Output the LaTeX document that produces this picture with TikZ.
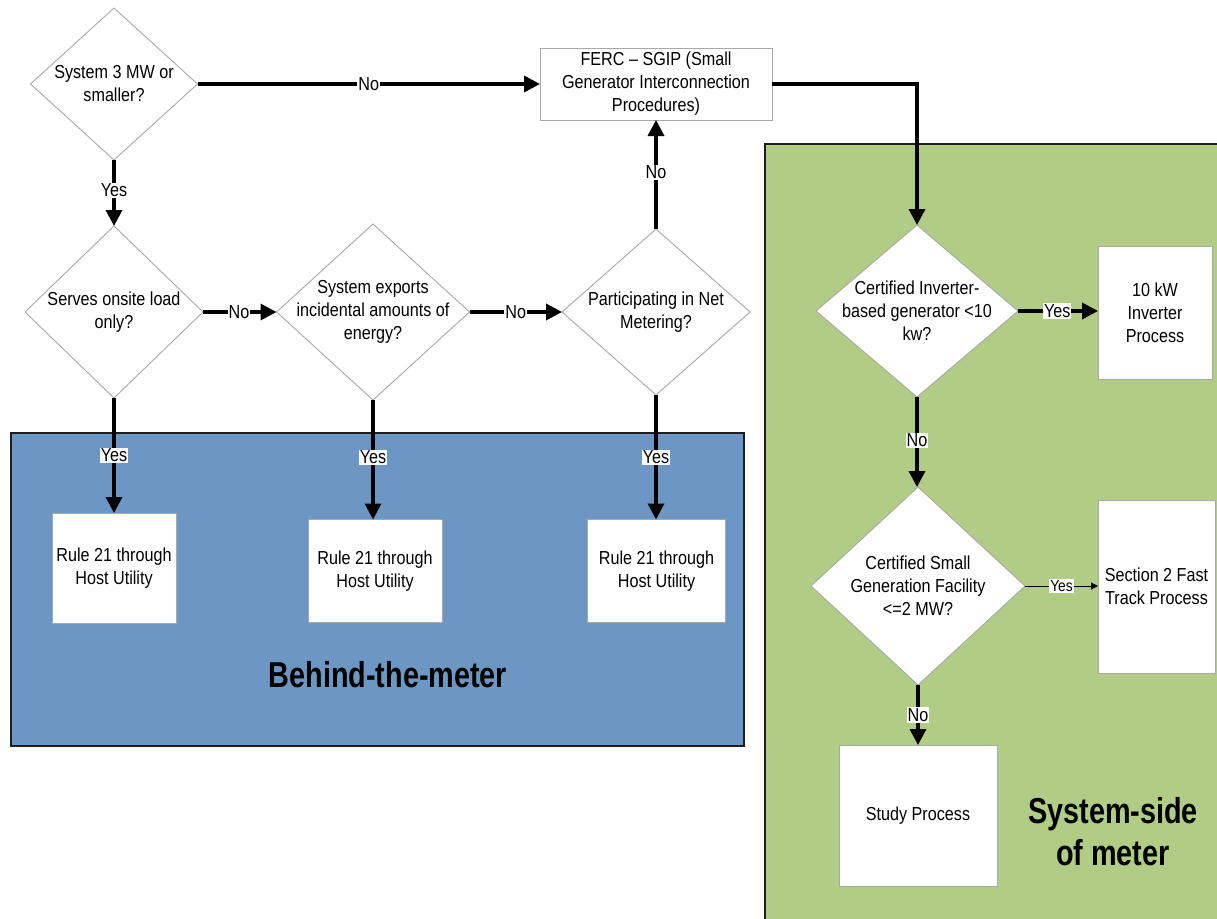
\documentclass[tikz,border=0pt]{standalone}
\usepackage{fontspec}
\setmainfont{Liberation Sans}[FakeStretch=0.86]
\newfontfamily\titlefont{Liberation Sans}[FakeStretch=0.8]
\usetikzlibrary{shapes.geometric,arrows.meta}
\definecolor{meterblue}{HTML}{6C97C5}
\definecolor{sidegreen}{HTML}{B1CD85}
\definecolor{edgegray}{HTML}{A8A8A8}
\definecolor{framedark}{HTML}{1E1E1E}

\begin{document}
\begin{tikzpicture}[x=1pt,y=-1pt,
  txt/.style={font=\fontsize{18.8}{23}\selectfont, align=center, text=black},
  dia/.style={diamond, draw=edgegray, line width=0.9pt, fill=white, inner sep=0pt, outer sep=0pt},
  box/.style={rectangle, draw=edgegray, line width=0.9pt, fill=white, inner sep=0pt, outer sep=0pt, txt},
  flow/.style={line width=3.5pt, line join=miter, -{Triangle[length=16pt,width=16pt]}},
  thinflow/.style={line width=1pt, -{Triangle[length=7pt,width=7pt]}},
  lbl/.style={fill=white, inner sep=1pt, font=\fontsize{18.8}{20}\selectfont},
  smalllbl/.style={fill=white, inner sep=1pt, font=\fontsize{16}{17}\selectfont},
  region/.style={draw=framedark, line width=2pt},
  title/.style={font=\titlefont\bfseries\fontsize{36}{42}\selectfont, align=center}
]
\useasboundingbox (0,0) rectangle (1217,918);
\clip (0,0) rectangle (1217,918);

% shaded zones
\draw[region, fill=sidegreen] (765,144) rectangle (1240,940);
\draw[region, fill=meterblue] (11,433) rectangle (744,746);

% decisions
\node[dia, minimum width=167, minimum height=152,
  label={[txt]center:{System 3 MW or\\smaller?}}] (d1) at (114,84) {};
\node[dia, minimum width=178, minimum height=172,
  label={[txt]center:{Serves onsite load\\only?}}] (d2) at (114,312) {};
\node[dia, minimum width=193, minimum height=176,
  label={[txt]center:{System exports\\incidental amounts of\\energy?}}] (d3) at (373,312) {};
\node[dia, minimum width=188, minimum height=166,
  label={[txt]center:{Participating in Net\\Metering?}}] (d4) at (656,312) {};
\node[dia, minimum width=202, minimum height=172,
  label={[txt]center:{Certified Inverter-\\based generator <10\\kw?}}] (d5) at (917,311) {};
\node[dia, minimum width=214, minimum height=198,
  label={[txt]center:{Certified Small\\Generation Facility\\<=2 MW?}}] (d6) at (918,586) {};

% process boxes
\node[box, minimum width=232, minimum height=72] (ferc) at (656,84)
  {FERC – SGIP (Small\\Generator Interconnection\\Procedures)};
\node[box, minimum width=124, minimum height=110] (r1) at (114,568) {Rule 21 through\\Host Utility};
\node[box, minimum width=134, minimum height=103] (r2) at (375,571) {Rule 21 through\\Host Utility};
\node[box, minimum width=138, minimum height=103] (r3) at (656.5,571) {Rule 21 through\\Host Utility};
\node[box, minimum width=114, minimum height=133] (inv) at (1155,313) {10 kW\\Inverter\\Process};
\node[box, minimum width=117, minimum height=173] (fast) at (1156.5,586.5) {Section 2 Fast\\Track Process};
\node[box, minimum width=158, minimum height=141] (study) at (918,815.5) {Study Process};

% zone titles
\node[title] (btm) at (388,675) {Behind-the-meter};
\node[title] (ssm) at (1113,832) {System-side\\of meter};

% connectors
\draw[flow] (d1.east) -- node[lbl, pos=0.5] {No} (ferc.west);
\draw[flow] (d1.south) -- node[lbl, pos=0.46] {Yes} (d2.north);
\draw[flow] (d2.east) -- node[lbl, pos=0.49] {No} (d3.west);
\draw[flow] (d3.east) -- node[lbl, pos=0.5] {No} (d4.west);
\draw[flow] (d4.north) -- node[lbl, pos=0.52] {No} (ferc.south);
\draw[flow] (ferc.east) -| (d5.north);
\draw[flow] (d2.south) -- node[lbl, pos=0.5] {Yes} (d2.south |- r1.north);
\draw[flow] (d3.south) -- node[lbl, pos=0.48] {Yes} (d3.south |- r2.north);
\draw[flow] (d4.south) -- node[lbl, pos=0.5] {Yes} (d4.south |- r3.north);
\draw[flow] (d5.east) -- node[lbl, pos=0.49] {Yes} (d5.east -| inv.west);
\draw[flow] (d5.south) -- node[lbl, pos=0.48] {No} (d5.south |- d6.north);
\draw[thinflow] (d6.east) -- node[smalllbl, pos=0.5] {Yes} (d6.east -| fast.west);
\draw[flow] (d6.south) -- node[lbl, pos=0.5] {No} (study.north);
\end{tikzpicture}
\end{document}
